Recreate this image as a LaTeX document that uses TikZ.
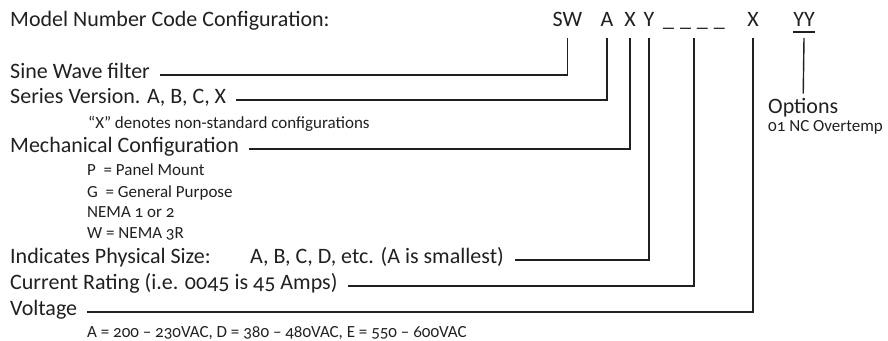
\documentclass[tikz,border=0pt]{standalone}
\usepackage{fontspec}
\setmainfont{Carlito}[Numbers=OldStyle]
\definecolor{ink}{HTML}{231F20}
\begin{document}
\begin{tikzpicture}[x=1pt,y=-1pt,
  big/.style={font=\fontsize{22}{26}\selectfont, inner sep=0pt, anchor=base west, text=ink},
  small/.style={font=\fontsize{17}{20}\selectfont, inner sep=0pt, anchor=base west, text=ink},
  code/.style={font=\fontsize{22}{26}\selectfont, inner sep=0pt, anchor=base, text=ink},
  lead/.style={draw=ink, line width=1.4pt}]
\useasboundingbox (0,0) rectangle (888,340);

% title and code row
\node[big] (title) at (10,27) {Model Number Code Configuration:};
\node[code] (sw) at (567.5,27) {SW};
\node[code] (a) at (607,27) {A};
\node[code] (x1) at (630,27) {X};
\node[code] (y1) at (649,27) {Y};
\node[code] (dash) at (694,27) {\_\hspace{6pt}\_\hspace{6pt}\_\hspace{6pt}\_};
\node[code] (x2) at (753,27) {X};
\node[code] (yy) at (804,27) {YY};
\draw[lead] ([yshift=-5pt]yy.base west) -- ([yshift=-5pt]yy.base east);

% labels
\node[big] (sine) at (10,78.5) {Sine Wave filter};
\node[big] (series) at (10,103.5) {Series Version. A, B, C, X};
\node[small] (xnote) at (88,128) {“X” denotes non-standard configurations};
\node[big] (mech) at (10,152.5) {Mechanical Configuration};
\node[small] (p) at (87,175) {P \ = Panel Mount};
\node[small] (g) at (87,197) {G \ = General Purpose};
\node[small] (nema) at (87,217.5) {NEMA 1 or 2};
\node[small] (w) at (87,238) {W = NEMA 3R};
\node[big] (size) at (10,263.5) {Indicates Physical Size:};
\node[big] (sizeval) at (250,263.5) {A, B, C, D, etc. (A is smallest)};
\node[big] (current) at (10,289.5) {Current Rating (i.e. 0045 is 45 Amps)};
\node[big] (volt) at (10,315.5) {Voltage};
\node[small] (voltval) at (87,337) {A = 200 – 230VAC, D = 380 – 480VAC, E = 550 – 600VAC};
\node[big] (opt) at (768,113) {Options};
\node[small] (optval) at (768,131) {01 NC Overtemp};

% connectors
\draw[lead] ([yshift=-11pt]sw.base) |- ([xshift=10pt,yshift=3.5pt]sine.base east);
\draw[lead] ([yshift=-11pt]a.base) |- ([xshift=10pt,yshift=3.5pt]series.base east);
\draw[lead] ([yshift=-11pt]x1.base) |- ([xshift=10pt,yshift=3.5pt]mech.base east);
\draw[lead] ([yshift=-11pt]y1.base) |- ([xshift=11pt,yshift=3.5pt]sizeval.base east);
\draw[lead] ([yshift=-11pt]dash.base) |- ([xshift=10pt,yshift=3.5pt]current.base east);
\draw[lead] ([yshift=-11pt]x2.base) |- ([xshift=10pt,yshift=3.5pt]volt.base east);
\draw[lead] ([yshift=-11pt]yy.base) -- ([yshift=4pt]opt.north);
\end{tikzpicture}
\end{document}
